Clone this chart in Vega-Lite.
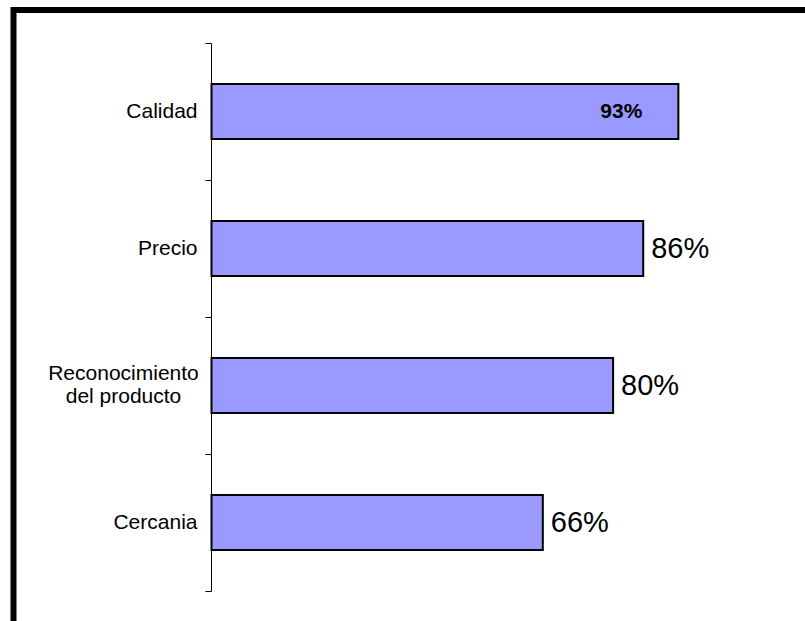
{
  "$schema": "https://vega.github.io/schema/vega-lite/v6.json",
  "width": 800,
  "height": 620,
  "autosize": {"type": "none"},
  "padding": {"left": 13.5, "top": 10, "right": 0, "bottom": 0},
  "background": "white",
  "config": {
    "view": {"stroke": "black", "strokeWidth": 6},
    "font": "Liberation Sans"
  },
  "data": {
    "values": [
      {"factor": "Calidad", "valor": 0.93},
      {"factor": "Precio", "valor": 0.86},
      {"factor": "Reconocimiento del producto", "valor": 0.80},
      {"factor": "Cercania", "valor": 0.66}
    ]
  },
  "encoding": {
    "y": {
      "field": "factor",
      "type": "nominal",
      "sort": null,
      "scale": {"range": [33, 581], "paddingInner": 0, "paddingOuter": 0},
      "axis": {
        "title": null,
        "offset": -197.5,
        "domainColor": "#000",
        "domainWidth": 1,
        "tickColor": "#000",
        "tickSize": 6,
        "tickBand": "extent",
        "labelFont": "Liberation Sans",
        "labelFontSize": 21,
        "labelColor": "#000",
        "labelLimit": 0,
        "labelLineHeight": 23,
        "labelPadding": {"condition": {"test": "datum.value == 'Reconocimiento del producto'", "value": 82}, "value": 8},
        "labelAlign": {"condition": {"test": "datum.value == 'Reconocimiento del producto'", "value": "center"}, "value": "right"},
        "labelOffset": {"condition": {"test": "datum.value == 'Reconocimiento del producto'", "value": -12}, "value": 0},
        "labelExpr": "datum.value == 'Reconocimiento del producto' ? ['Reconocimiento', 'del producto'] : datum.label"
      }
    },
    "x": {
      "field": "valor",
      "type": "quantitative",
      "scale": {"domain": [0, 1], "range": [198, 700]},
      "axis": null
    }
  },
  "layer": [
    {"mark": {"type": "bar", "fill": "#9999FF", "stroke": "#000", "strokeWidth": 2, "height": {"band": 0.4}}},
    {
      "transform": [{"filter": "datum.factor == 'Calidad'"}],
      "mark": {"type": "text", "align": "right", "baseline": "middle", "dx": -36, "fontSize": 21, "fontWeight": "bold", "font": "Liberation Sans", "color": "#000"},
      "encoding": {"text": {"field": "valor", "type": "quantitative", "format": ".0%"}}
    },
    {
      "transform": [{"filter": "datum.factor != 'Calidad'"}],
      "mark": {"type": "text", "align": "left", "baseline": "middle", "dx": 8, "fontSize": 29, "font": "Liberation Sans", "color": "#000"},
      "encoding": {"text": {"field": "valor", "type": "quantitative", "format": ".0%"}}
    }
  ]
}
